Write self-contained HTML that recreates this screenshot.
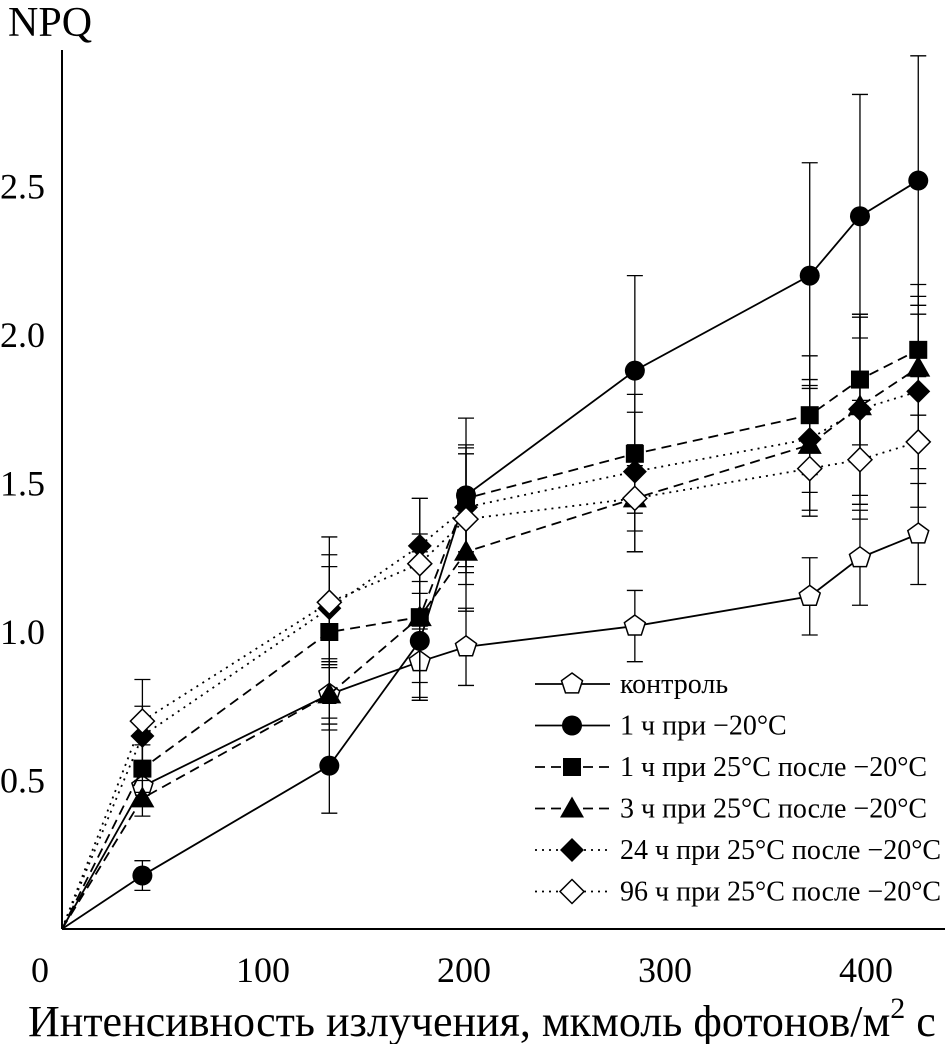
<!DOCTYPE html>
<html><head><meta charset="utf-8"><style>
body{margin:0;background:#fff}
svg{display:block;font-family:"Liberation Serif","DejaVu Serif",serif}
</style></head><body>
<svg id="chart" width="950" height="1044" viewBox="0 0 950 1044">
<g id="axes"></g><g id="series"></g><g id="legend"></g>
</svg>
<script>
const xs = [0, 40, 133, 178, 201, 285, 372, 397, 426];
const control = [0, 0.48, 0.79, 0.90, 0.95, 1.02, 1.12, 1.25, 1.33];
const controlErr = [0, 0.05, 0.1, 0.12, 0.13, 0.12, 0.13, 0.16, 0.17];
const cold1h = [0, 0.18, 0.55, 0.97, 1.46, 1.88, 2.20, 2.40, 2.52];
const cold1hErr = [0, 0.05, 0.16, 0.2, 0.26, 0.32, 0.38, 0.41, 0.42];
const rec1h = [0, 0.54, 1.0, 1.05, 1.45, 1.60, 1.73, 1.85, 1.95];
const rec1hErr = [0, 0.08, 0.22, 0.22, 0.18, 0.2, 0.2, 0.22, 0.22];
const rec3h = [0, 0.44, 0.79, 1.05, 1.27, 1.45, 1.63, 1.76, 1.89];
const rec3hErr = [0, 0.06, 0.12, 0.28, 0.2, 0.18, 0.22, 0.3, 0.24];
const rec24h = [0, 0.65, 1.08, 1.29, 1.42, 1.54, 1.65, 1.75, 1.81];
const rec24hErr = [0, 0.1, 0.18, 0.16, 0.2, 0.2, 0.18, 0.32, 0.26];
const rec96h = [0, 0.70, 1.10, 1.23, 1.38, 1.45, 1.55, 1.58, 1.64];
const rec96hErr = [0, 0.14, 0.22, 0.22, 0.22, 0.18, 0.16, 0.2, 0.22];
const xTicks = [0, 100, 200, 300, 400];
const yTicks = [0.5, 1.0, 1.5, 2.0, 2.5];
const legendLabels = ["контроль","1 ч при −20°C","1 ч при 25°C после −20°C","3 ч при 25°C после −20°C","24 ч при 25°C после −20°C","96 ч при 25°C после −20°C"];

const NS="http://www.w3.org/2000/svg";
const X=v=>62+v*2.01, Y=v=>929-v*297;
function mk(tag,attrs,parent,text){const e=document.createElementNS(NS,tag);for(const k in attrs)e.setAttribute(k,attrs[k]);if(text!=null)e.textContent=text;parent.appendChild(e);return e;}
const axes=document.getElementById('axes'), ser=document.getElementById('series'), leg=document.getElementById('legend');
let a=mk('line',{x1:62,y1:929,x2:945,y2:929,stroke:'#000','stroke-width':2},axes);

a=mk('line',{x1:62,y1:50,x2:62,y2:929,stroke:'#000','stroke-width':2},axes);

xTicks.forEach(t=>{
 const l=mk('text',{x:X(t)-(t===0?22:0),y:982,'font-size':36,'text-anchor':'middle'},axes,String(t));
 
});
yTicks.forEach(t=>{
 const l=mk('text',{x:0,y:Y(t)+12,'font-size':36},axes,t.toFixed(1));
 
});
let tt=mk('text',{x:8,y:36,'font-size':42},axes,'NPQ');

tt=mk('text',{x:28,y:1036,'font-size':44},axes,'Интенсивность излучения, мкмоль фотонов/м');

mk('tspan',{dy:-18,'font-size':30},tt,'2');
mk('tspan',{dy:18,'font-size':44},tt,' с');

function marker(type,cx,cy,g){
 const s={stroke:'#000','stroke-width':1.5};
 if(type==='pent'){const p=[];for(let i=0;i<5;i++){const an=-Math.PI/2+i*2*Math.PI/5;p.push((cx+11*Math.cos(an)).toFixed(1)+','+(cy+11*Math.sin(an)).toFixed(1));}return mk('polygon',{points:p.join(' '),fill:'#fff',...s},g);}
 if(type==='circ')return mk('circle',{cx,cy,r:10,fill:'#000'},g);
 if(type==='sq')return mk('rect',{x:cx-9,y:cy-9,width:18,height:18,fill:'#000'},g);
 if(type==='tri')return mk('polygon',{points:`${cx},${cy-12} ${cx+12},${cy+9} ${cx-12},${cy+9}`,fill:'#000'},g);
 if(type==='dia')return mk('polygon',{points:`${cx},${cy-12} ${cx+12},${cy} ${cx},${cy+12} ${cx-12},${cy}`,fill:'#000'},g);
 return mk('polygon',{points:`${cx},${cy-12} ${cx+12},${cy} ${cx},${cy+12} ${cx-12},${cy}`,fill:'#fff',...s},g);
}
const series=[
 {name:'control',vals:control,err:controlErr,m:'pent',dash:''},
 {name:'cold-1h',vals:cold1h,err:cold1hErr,m:'circ',dash:''},
 {name:'recovery-1h',vals:rec1h,err:rec1hErr,m:'sq',dash:'10,6'},
 {name:'recovery-3h',vals:rec3h,err:rec3hErr,m:'tri',dash:'10,6'},
 {name:'recovery-24h',vals:rec24h,err:rec24hErr,m:'dia',dash:'2,5'},
 {name:'recovery-96h',vals:rec96h,err:rec96hErr,m:'odia',dash:'2,5'}
];
series.forEach((s,si)=>{
 const g=mk('g',{},ser);
 
 s.vals.forEach((v,i)=>{if(!s.err[i])return;
  const x=X(xs[i]),y1=Y(v+s.err[i]),y2=Y(v-s.err[i]);
  const e=mk('path',{d:`M${x},${y1}V${y2}M${x-8},${y1}h16M${x-8},${y2}h16`,stroke:'#000','stroke-width':1.3,fill:'none'},g);
  
 });
 const ln=mk('polyline',{points:s.vals.map((v,i)=>X(xs[i])+','+Y(v)).join(' '),fill:'none',stroke:'#000','stroke-width':1.8,'stroke-dasharray':s.dash},g);
 
 s.vals.forEach((v,i)=>{if(i===0)return;const m=marker(s.m,X(xs[i]),Y(v),g);
  });
 const ly=684+si*41.5;
 const lg=mk('g',{},leg);
 
 mk('line',{x1:535,y1:ly,x2:610,y2:ly,stroke:'#000','stroke-width':1.8,'stroke-dasharray':s.dash},lg);
 marker(s.m,572,ly,lg);
 mk('text',{x:620,y:ly+9,'font-size':28},lg,legendLabels[si]);
});
</script>
</body></html>
